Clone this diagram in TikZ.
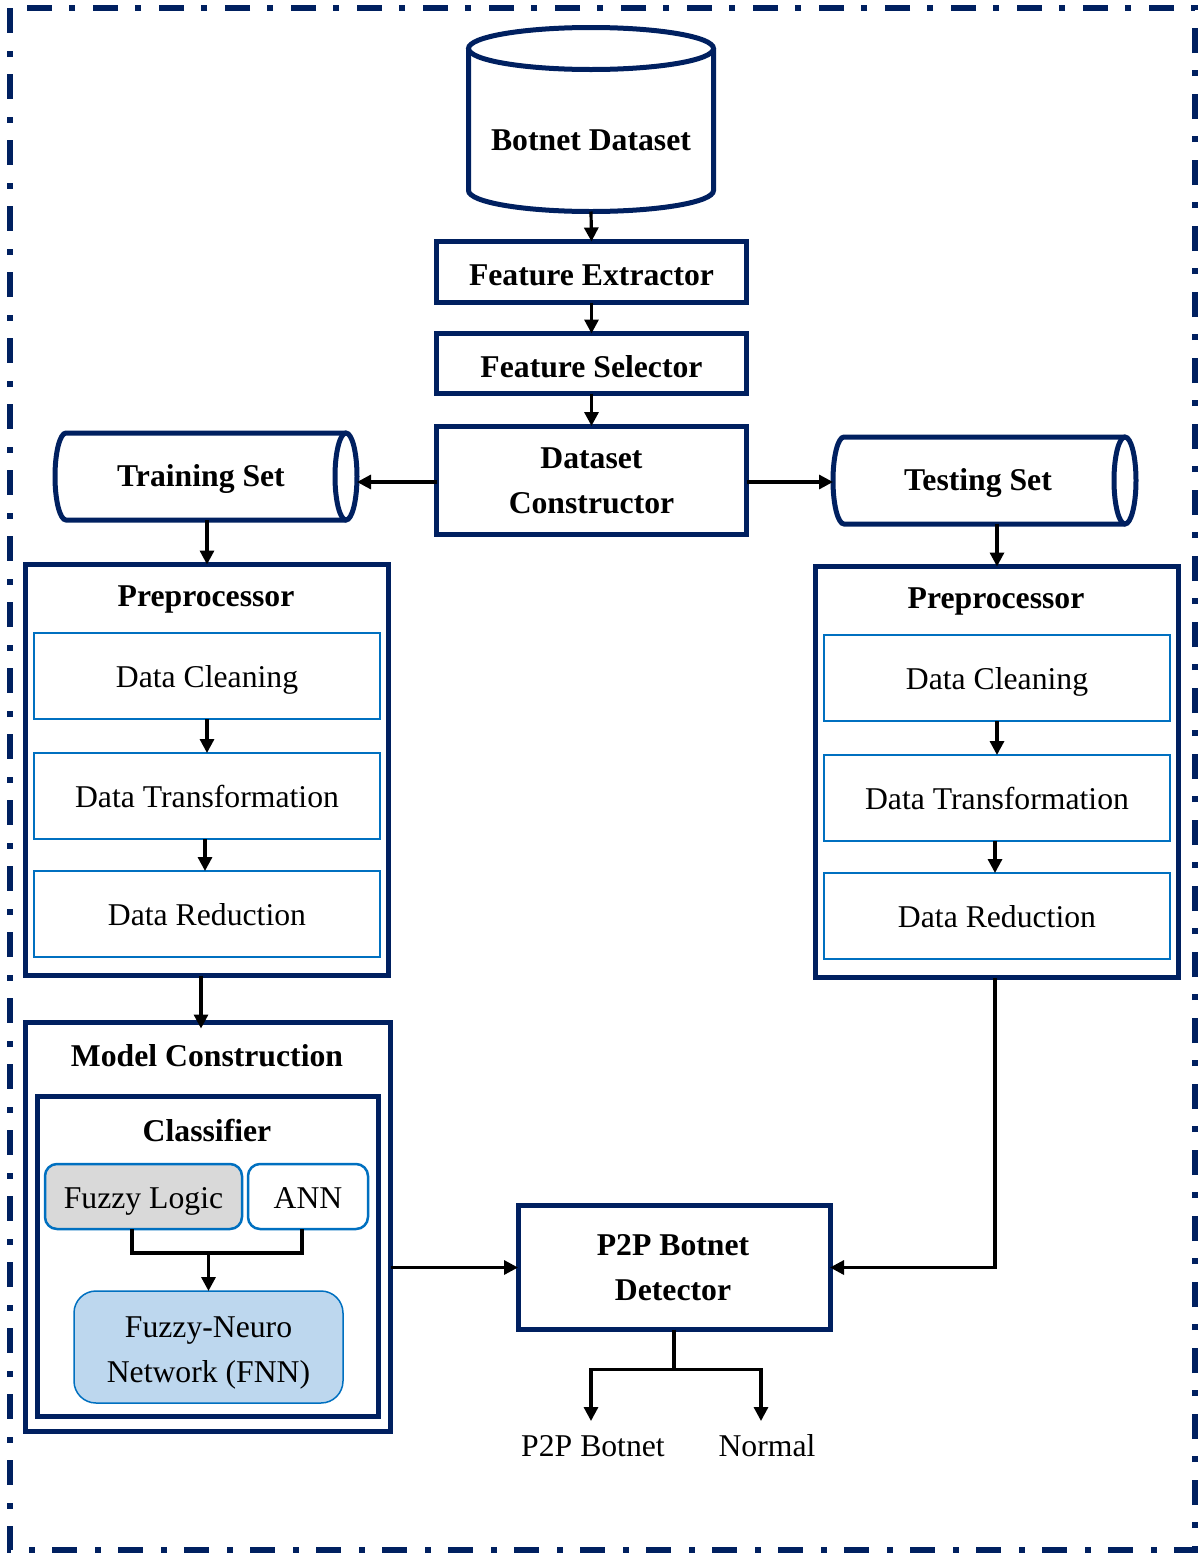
\documentclass[tikz,border=0pt]{standalone}
\usepackage{fontspec}
\setmainfont{Liberation Serif}
\usetikzlibrary{arrows.meta}
\definecolor{navy}{RGB}{0,32,96}
\definecolor{midblue}{RGB}{0,112,192}
\definecolor{lightblue}{RGB}{189,215,238}
\definecolor{lightgrey}{RGB}{217,217,217}
\begin{document}
\begin{tikzpicture}[x=1pt,y=-1pt,
  every node/.style={font=\fontsize{31.7}{45}\selectfont, inner sep=0pt, outer sep=0pt},
  ttl/.style={font=\fontsize{31.7}{45}\selectfont\bfseries, align=center},
  capc/.style={text height=23pt, text depth=0pt},
  navybox/.style={draw=navy, line width=5pt, fill=white},
  bluebox/.style={draw=midblue, line width=2.5pt, fill=white, minimum width=346pt, minimum height=86pt, capc},
  shapeline/.style={draw=navy, line width=5pt},
  conn/.style={draw=black, line width=3.2pt},
  arr/.style={conn, -{Triangle[length=14pt,width=14pt]}}]
\useasboundingbox (0,0) rectangle (1200,1553);
% outer dash-dot frame
\draw[navy, line width=6pt, dash pattern=on 25pt off 18pt on 6pt off 17pt] (10,8) rectangle (1195,1550);

% Botnet Dataset cylinder
\filldraw[shapeline, fill=white] (468.5,48.5) -- (468.5,190.5)
  .. controls (468.5,202.1) and (523.3,211.5) .. (591,211.5)
  .. controls (658.7,211.5) and (713.5,202.1) .. (713.5,190.5) -- (713.5,48.5);
\draw[shapeline] (591,48.5) ellipse [x radius=122.5, y radius=21];
\node[minimum width=245pt, minimum height=184pt] (db) at (591,119.5) {};
\node[ttl] (dblbl) at (591,140) {Botnet Dataset};

% Feature boxes
\node[navybox, minimum width=310pt, minimum height=61pt] (fe) at (591.5,272) {};
\node[ttl] (felbl) at (591.5,275) {Feature Extractor};
\node[navybox, minimum width=310pt, minimum height=60pt] (fs) at (591.5,363.5) {};
\node[ttl] (fslbl) at (591.5,367) {Feature Selector};
\node[navybox, minimum width=310pt, minimum height=108pt] (dc) at (591.5,480) {};
\node[ttl] (dclbl) at (591.5,481) {Dataset\\Constructor};

% Training Set cylinder (horizontal)
\filldraw[shapeline, fill=white] (346,433) -- (66,433)
  .. controls (59.9,433) and (55,452.5) .. (55,476.5)
  .. controls (55,500.5) and (59.9,520) .. (66,520) -- (346,520);
\draw[shapeline] (346,476.5) ellipse [x radius=11, y radius=43.5];
\node[minimum width=302pt, minimum height=87pt] (train) at (206,476.5) {};
\node[ttl] (trainlbl) at (201,479) {Training Set};

% Testing Set cylinder (horizontal)
\filldraw[shapeline, fill=white] (1125,437) -- (844,437)
  .. controls (837.9,437) and (833,456.5) .. (833,480.5)
  .. controls (833,504.5) and (837.9,524) .. (844,524) -- (1125,524);
\draw[shapeline] (1125,480.5) ellipse [x radius=11, y radius=43.5];
\node[minimum width=303pt, minimum height=87pt] (test) at (984.5,480.5) {};
\node[ttl] (testlbl) at (978,483) {Testing Set};

% Left preprocessor
\node[navybox, minimum width=363pt, minimum height=411pt] (lprep) at (207,770) {};
\node[ttl] (lpreplbl) at (206,599) {Preprocessor};
\node[bluebox] (ldc) at (207,676) {Data Cleaning};
\node[bluebox] (ldt) at (207,796) {Data Transformation};
\node[bluebox] (ldr) at (207,914) {Data Reduction};

% Right preprocessor
\node[navybox, minimum width=363pt, minimum height=411pt] (rprep) at (997,772) {};
\node[ttl] (rpreplbl) at (996,601) {Preprocessor};
\node[bluebox] (rdc) at (997,678) {Data Cleaning};
\node[bluebox] (rdt) at (997,798) {Data Transformation};
\node[bluebox] (rdr) at (997,916) {Data Reduction};

% Model construction
\node[navybox, minimum width=365pt, minimum height=409pt] (model) at (208,1227) {};
\node[ttl] (modellbl) at (207,1056) {Model Construction};
\node[navybox, minimum width=341pt, minimum height=320pt] (cls) at (208,1256.5) {};
\node[ttl] (clslbl) at (207,1130) {Classifier};
\node[draw=midblue, line width=2.5pt, fill=lightgrey, rounded corners=12pt,
      minimum width=197pt, minimum height=65pt, capc] (fuzzy) at (143.5,1196.5) {Fuzzy Logic};
\node[draw=midblue, line width=2.5pt, fill=white, rounded corners=12pt,
      minimum width=120pt, minimum height=65pt, capc] (ann) at (308,1196.5) {ANN};
\node[draw=midblue, line width=1.5pt, fill=lightblue, rounded corners=22pt,
      minimum width=269pt, minimum height=112pt] (fnn) at (208.5,1347) {};
\node[align=center] (fnnlbl) at (208.5,1353) {Fuzzy-Neuro\\Network (FNN)};

% Detector
\node[navybox, minimum width=312pt, minimum height=124pt] (det) at (674,1267.5) {};
\node[ttl] (detlbl) at (673,1268) {P2P Botnet\\Detector};

% Outputs
\node (out1) at (593,1446) {P2P Botnet};
\node (out2) at (767,1446) {Normal};

% Connectors
\draw[arr] (db.south) -- (fe.north);
\draw[arr] (fe.south) -- (fs.north);
\draw[arr] (fs.south) -- (dc.north);
\coordinate (dcl) at ([yshift=-2pt]dc.west);
\coordinate (dcr) at ([yshift=-2pt]dc.east);
\draw[arr] (dcl) -- (dcl -| train.east);
\draw[arr] (dcr) -- (dcr -| test.west);
\draw[arr] (lprep.north |- train.south) -- (lprep.north);
\draw[arr] (rprep.north |- test.south) -- (rprep.north);
\draw[arr] (ldc.south) -- (ldt.north);
\draw[arr] ([xshift=-2pt]ldt.south) -- ([xshift=-2pt]ldr.north);
\draw[arr] (rdc.south) -- (rdt.north);
\draw[arr] ([xshift=-2pt]rdt.south) -- ([xshift=-2pt]rdr.north);
\coordinate (lps) at ([xshift=-6pt]lprep.south);
\draw[arr] (lps) -- ([yshift=-6pt]lps |- model.north);
\coordinate (fzs) at ([xshift=-11.5pt]fuzzy.south);
\coordinate (ans) at ([xshift=-6pt]ann.south);
\coordinate (jn) at ([yshift=-24pt]fzs);
\draw[conn] (fzs) -- (jn) -| (ans);
\draw[arr] (fnn.north |- jn) -- (fnn.north);
\draw[arr] (model.east |- det.west) -- (det.west);
\draw[arr] ([xshift=-2pt]rprep.south) |- (det.east);
\coordinate (dj) at ([yshift=-40pt]det.south);
\coordinate (o1) at (591,1421);
\coordinate (o2) at (761,1421);
\draw[conn] (det.south) -- (dj);
\draw[arr] (dj) -| (o1);
\draw[arr] (dj) -| (o2);
\end{tikzpicture}
\end{document}
